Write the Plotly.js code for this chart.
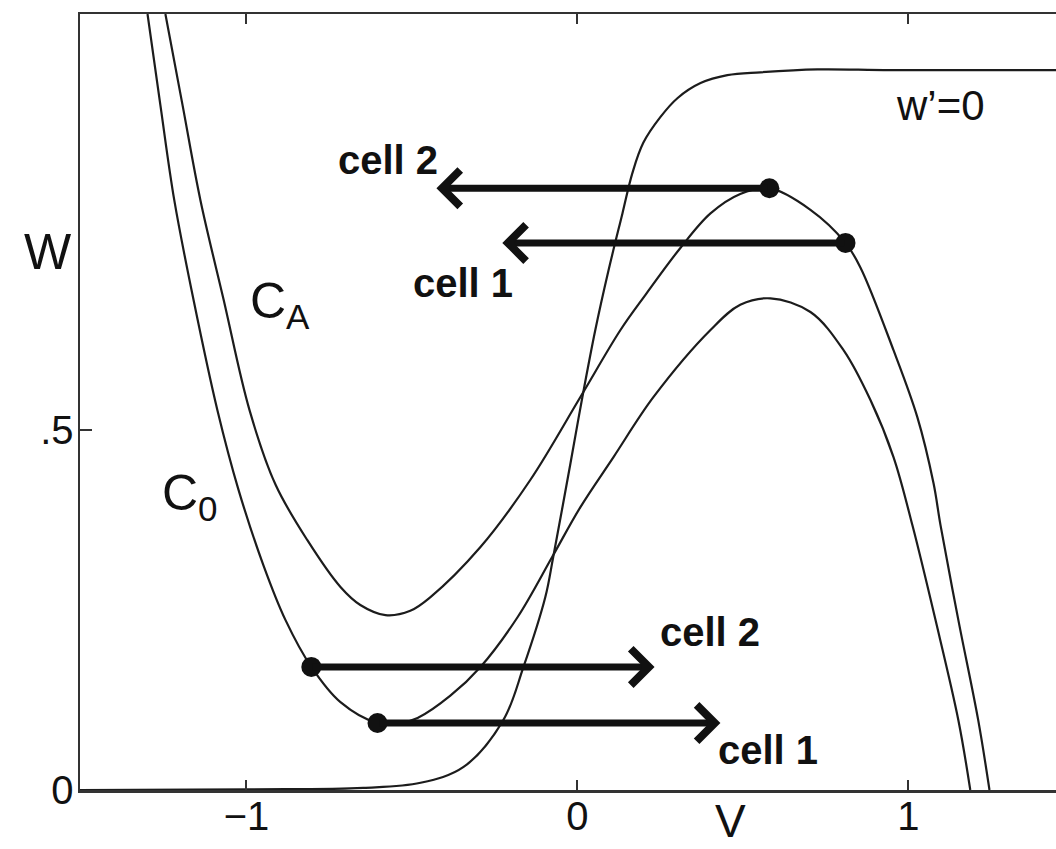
<!DOCTYPE html>
<html>
<head>
<meta charset="utf-8">
<script src="https://cdn.plot.ly/plotly-3.0.1.min.js"></script>
<style>
  html, body { margin: 0; padding: 0; background: #fff; overflow: hidden; }
  #chart { width: 1056px; height: 849px; }
</style>
</head>
<body>
<div id="chart"></div>
<script>
// V-nullcline of the uncoupled cell, C0 (V, W pairs)
const c0V = [-1.299, -1.260, -1.218, -1.160, -1.088, -1.024, -0.949, -0.882, -0.804, -0.716,
             -0.604, -0.535, -0.483, -0.384, -0.293, -0.181, -0.076,  0.009,  0.109,  0.230,
              0.402,  0.492,  0.583,  0.704,  0.804,  0.885,  0.955,  1.012,  1.082,  1.151,
              1.187];
const c0W = [ 1.078,  0.951,  0.819,  0.681,  0.528,  0.417,  0.3125, 0.236,  0.171,  0.122,
              0.093,  0.093,  0.100,  0.131,  0.171,  0.240,  0.324,  0.393,  0.4625, 0.546,
              0.639,  0.674,  0.683,  0.664,  0.611,  0.542,  0.4625, 0.368,  0.236,  0.097,
              0.000];

// V-nullcline with the synaptic input switched on, C_A
const cAV = [-1.245, -1.193, -1.139, -1.069, -0.991, -0.912, -0.816, -0.716, -0.656, -0.580,
             -0.505, -0.444, -0.293, -0.142,  0.009,  0.130,  0.205,  0.311,  0.402,  0.492,
              0.580,  0.704,  0.810,  0.855,  0.955,  1.027,  1.076,  1.097,  1.151,  1.211,
              1.245];
const cAW = [ 1.078,  0.951,  0.819,  0.681,  0.528,  0.424,  0.347,  0.282,  0.257,  0.243,
              0.249,  0.268,  0.3375, 0.431,  0.546,  0.639,  0.6875, 0.753,  0.801,  0.828,
              0.836,  0.806,  0.760,  0.726,  0.611,  0.518,  0.426,  0.368,  0.236,  0.097,
              0.000];

// Recovery nullcline w' = 0
const wNullV = [-1.503, -0.988, -0.647, -0.474, -0.344, -0.224, -0.163, -0.097, -0.073, -0.021,
                 0.015,  0.054,  0.094,  0.136,  0.166,  0.199,  0.251,  0.302,  0.372,  0.453,
                 0.553,  0.725,  0.946,  1.446];
const wNullW = [ 0.000,  0.001,  0.003,  0.010,  0.032,  0.097,  0.171,  0.268,  0.324,  0.454,
                 0.546,  0.639,  0.722,  0.801,  0.857,  0.899,  0.935,  0.961,  0.982,  0.993,
                 0.997,  1.001,  1.000,  1.000];

// Fast jumps of the two cells: start point on a nullcline, end of the jump
const jumpFromV = [0.580, 0.810, -0.804, -0.604];
const jumpW     = [0.836, 0.760,  0.171,  0.093];
const jumpToV   = [-0.426, -0.227, 0.233, 0.432];

// Axis ticks
const xTickVals = [-1, 0, 1];
const xTickText = ['\u22121', '0', '1'];
const yTickVals = [0, 0.5];
const yTickText = ['0', '.5'];

const FONT = 'Liberation Sans, Arial, Helvetica, sans-serif';
const INK = '#1c1c1c';
const curveLine = { color: INK, width: 2.2, shape: 'spline', smoothing: 1 };

const traces = [
  { x: c0V, y: c0W, mode: 'lines', line: curveLine, hoverinfo: 'skip' },
  { x: cAV, y: cAW, mode: 'lines', line: curveLine, hoverinfo: 'skip' },
  { x: wNullV, y: wNullW, mode: 'lines', line: curveLine, hoverinfo: 'skip' },
  { x: jumpFromV, y: jumpW, mode: 'markers',
    marker: { size: 20, color: '#111' }, hoverinfo: 'skip' }
];

// Jump arrows drawn from the nullcline points to the jump ends
const arrows = jumpFromV.map((v0, i) => ({
  x: jumpToV[i], y: jumpW[i], xref: 'x', yref: 'y',
  ax: v0, ay: jumpW[i], axref: 'x', ayref: 'y',
  text: '', showarrow: true, arrowhead: 4, arrowsize: 1,
  arrowwidth: 7, arrowcolor: '#111', standoff: 0
}));

const txt = (text, x, y, size, extra) => Object.assign({
  text, x, y, xref: 'x', yref: 'y', showarrow: false,
  xanchor: 'center', yanchor: 'middle',
  font: { family: FONT, size, color: '#111' }
}, extra || {});

const labels = [
  txt('<b>cell 2</b>', -0.571, 0.875, 40),
  txt('<b>cell 1</b>', -0.347, 0.704, 40),
  txt('<b>cell 2</b>',  0.402, 0.219, 40),
  txt('<b>cell 1</b>',  0.577, 0.056, 40),
  txt('w\u2019=0', 1.097, 0.951, 42),
  txt('C<sub>A</sub>', -0.994, 0.675, 50, { xanchor: 'left' }),
  txt('C<sub>0</sub>', -1.262, 0.408, 50, { xanchor: 'left' }),
  { text: 'W', xref: 'paper', yref: 'paper', x: -0.033, y: 0.693,
    xanchor: 'center', yanchor: 'middle', showarrow: false,
    font: { family: FONT, size: 50, color: '#111' } },
  { text: 'V', xref: 'paper', yref: 'paper', x: 0.666, y: -0.0755,
    xanchor: 'center', yanchor: 'bottom', showarrow: false,
    font: { family: FONT, size: 46, color: '#111' } }
];

const layout = {
  width: 1056, height: 849,
  margin: { l: 80, r: 0, t: 14, b: 59 },
  paper_bgcolor: '#fff', plot_bgcolor: '#fff',
  showlegend: false,
  xaxis: {
    range: [-1.503, 1.446], showgrid: false, zeroline: false,
    showline: true, linecolor: '#333', linewidth: 2.5, mirror: 'ticks',
    ticks: 'inside', ticklen: 10, tickwidth: 2, tickcolor: '#333',
    tickvals: xTickVals, ticktext: xTickText, ticklabelstandoff: -11,
    tickfont: { family: FONT, size: 40, color: '#111' }
  },
  yaxis: {
    range: [0, 1.078], showgrid: false, zeroline: false,
    showline: true, linecolor: '#333', linewidth: 2.5, mirror: false,
    ticks: 'inside', ticklen: 12, tickwidth: 2, tickcolor: '#333',
    tickvals: yTickVals, ticktext: yTickText, ticklabelstandoff: -4,
    tickfont: { family: FONT, size: 40, color: '#111' }
  },
  annotations: arrows.concat(labels)
};

Plotly.newPlot('chart', traces, layout, { staticPlot: true, displayModeBar: false });
</script>
</body>
</html>
